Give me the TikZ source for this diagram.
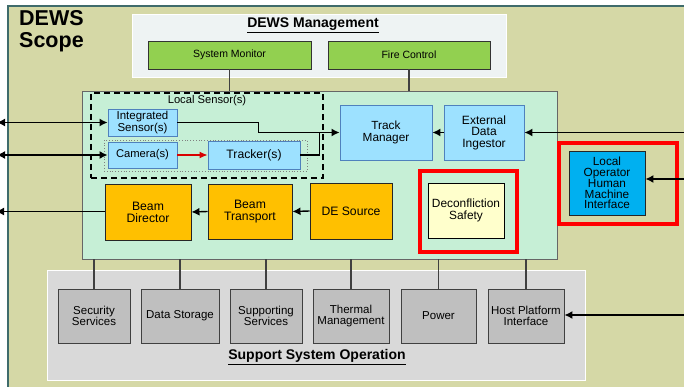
\documentclass[tikz,border=0pt]{standalone}
\usepackage{fontspec}
\setmainfont{Liberation Sans}
\usetikzlibrary{arrows.meta,calc}
\definecolor{scopebg}{HTML}{D5D8A6}
\definecolor{scopeline}{HTML}{3F6B6B}
\definecolor{mgmtbg}{HTML}{EEF3F3}
\definecolor{greenbox}{HTML}{92D050}
\definecolor{mintbg}{HTML}{C6EFD6}
\definecolor{lblue}{HTML}{9DE1FF}
\definecolor{lblueline}{HTML}{4F81BD}
\definecolor{orangebox}{HTML}{FFC000}
\definecolor{paleyel}{HTML}{FFFFCC}
\definecolor{hmiblue}{HTML}{00B0F0}
\definecolor{suppbg}{HTML}{D9D9D9}
\definecolor{graybox}{HTML}{BFBFBF}
\definecolor{conn}{HTML}{404040}
\tikzset{
  x=1pt,y=-1pt,
  panel/.style={draw=#1,rectangle,inner sep=0pt,outer sep=0pt},
  gbox/.style={draw=black!80,fill=greenbox,line width=0.9pt,inner sep=0pt,font=\fontsize{10.5}{11}\selectfont},
  bbox/.style={draw=lblueline,fill=lblue,line width=0.9pt,inner sep=0pt,align=center,font=\fontsize{11.5}{11}\selectfont},
  obox/.style={draw=black!85,fill=orangebox,line width=0.9pt,inner sep=0pt,align=center,font=\fontsize{12.2}{12}\selectfont},
  sbox/.style={draw=black!75,fill=graybox,line width=0.9pt,inner sep=0pt,align=center,font=\fontsize{11.5}{11}\selectfont},
  vconn/.style={draw=conn,line width=1.8pt},
  arr/.style={draw=black,line width=1.4pt,-{Latex[length=8pt,width=8pt]}},
  arrb/.style={draw=black,line width=1.4pt,{Latex[length=8pt,width=8pt]}-{Latex[length=8pt,width=8pt]}},
  redframe/.style={draw=red,line width=4.5pt,inner sep=0pt},
}
\begin{document}
\begin{tikzpicture}
\useasboundingbox (0,0) rectangle (684,387);
% scope background
\fill[scopebg] (8,6) rectangle (700,400);
\draw[scopeline,line width=1.2pt] (8,400) -- (8,6) -- (700,6);
\node[anchor=north west,align=left,inner sep=0pt,font=\fontsize{21.5}{22.5}\selectfont\bfseries] (scope) at (19,10) {DEWS\\Scope};

% management panel
\node[panel=white,fill=mgmtbg,minimum width=374pt,minimum height=63pt] (mgmt) at (319,45.5) {};
\node[inner sep=0pt,font=\fontsize{14}{14}\selectfont\bfseries] (mgmtt) at (313,25) {\underline{DEWS Management}};
\node[gbox,minimum width=163pt,minimum height=28pt] (sysmon) at (229.5,55) {System Monitor};
\node[gbox,minimum width=162pt,minimum height=28pt] (fire) at (409,55) {Fire Control};

% main panel
\node[panel=gray!80!black,fill=mintbg,line width=0.9pt,minimum width=475pt,minimum height=168pt] (main) at (319.5,175) {};
\draw[vconn] (sysmon.south) -- (sysmon.south |- main.north);
\draw[vconn] (fire.south) -- (fire.south |- main.north);

% local sensor group
\node[panel=black,line width=1.3pt,dash pattern=on 6pt off 4pt,minimum width=232pt,minimum height=85pt] (lsg) at (207,135.5) {};
\node[inner sep=0pt,font=\fontsize{11.2}{12}\selectfont] (lsl) at (207,101) {Local Sensor(s)};
\node[panel=gray,line width=0.8pt,dotted,minimum width=203pt,minimum height=31pt] (dotg) at (205.5,155.5) {};
\node[bbox,minimum width=69pt,minimum height=27pt,font=\fontsize{11.5}{9.5}\selectfont] (ints) at (142.5,122.5) {Integrated\\Sensor(s)};
\node[bbox,minimum width=69pt,minimum height=26pt,font=\fontsize{11.2}{11}\selectfont] (cam) at (142.5,155) {Camera(s)};
\node[bbox,minimum width=92pt,minimum height=28pt,font=\fontsize{12.2}{12}\selectfont] (trk) at (254,155) {Tracker(s)};
\node[bbox,minimum width=92pt,minimum height=55pt,font=\fontsize{11.8}{11.2}\selectfont] (tm) at (386,132.5) {Track\\Manager};
\node[bbox,minimum width=80pt,minimum height=55pt,font=\fontsize{12}{11.5}\selectfont] (ext) at (484,132.5) {External\\Data\\Ingestor};

% beam chain
\node[obox,minimum width=86pt,minimum height=56pt] (bd) at (148,212) {Beam\\Director};
\node[obox,minimum width=84pt,minimum height=55pt] (bt) at (250,211.5) {Beam\\Transport};
\node[obox,minimum width=82pt,minimum height=56pt] (des) at (351,211) {DE Source};

% deconfliction
\node[redframe,minimum width=97pt,minimum height=81pt] (dfr) at (468.5,211.5) {};
\node[draw=black,fill=paleyel,line width=0.9pt,inner sep=0pt,align=center,font=\fontsize{11.9}{12}\selectfont,minimum width=76pt,minimum height=55pt] (dec) at (466,210.5) {Deconfliction\\Safety};

% HMI
\node[redframe,minimum width=118pt,minimum height=81pt] (hfr) at (618,183.5) {};
\node[draw=black!85,fill=hmiblue,line width=0.9pt,inner sep=0pt,align=center,font=\fontsize{11.8}{10.4}\selectfont,minimum width=76pt,minimum height=64pt] (hmi) at (607,183) {Local\\Operator\\Human\\Machine\\Interface};

% support panel
\node[panel=white,fill=suppbg,line width=0.9pt,minimum width=538pt,minimum height=110pt] (supp) at (316,325) {};
\node[inner sep=0pt,font=\fontsize{14}{14}\selectfont\bfseries] (suppt) at (317,357) {\underline{Support System Operation}};
\node[sbox,minimum width=72pt,minimum height=54pt] (sec) at (94,316) {Security\\Services};
\node[sbox,minimum width=78pt,minimum height=54pt] (dst) at (180,316) {Data Storage};
\node[sbox,minimum width=72pt,minimum height=54pt] (sup) at (266,316) {Supporting\\Services};
\node[sbox,minimum width=76pt,minimum height=54pt] (thm) at (351,316) {Thermal\\Management};
\node[sbox,minimum width=75pt,minimum height=54pt] (pow) at (438.5,316) {Power};
\node[sbox,minimum width=76pt,minimum height=54pt] (hpi) at (526,316) {Host Platform\\Interface};
\foreach \b in {sec,dst,sup,thm,pow,hpi}{
  \draw[vconn] (\b.north) -- (\b.north |- main.south);
}

% connectors
\coordinate (L1) at (-3,122.5);
\coordinate (L2) at (-3,155);
\coordinate (L3) at (-4,211.5);
\coordinate (R1) at (690,132.5);
\coordinate (R2) at (690,179);
\coordinate (R3) at (690,315);
\draw[arrb] (L1) -- (ints.west);
\draw[arrb] (L2) -- (cam.west);
\draw[arr] (bd.west |- L3) -- (L3);
\draw[draw=black,line width=1.4pt] (ints.east) -- ++(81,0) |- ($(tm.west)+(-4,0)$);
\draw[draw=black,line width=1.4pt] (trk.east) -- ++(19,0) |- ($(tm.west)+(-4,0)$);
\draw[arr] ($(tm.west)+(-6,0)$) -- (tm.west);
\draw[draw=red!85!black,line width=1.2pt,-{Latex[length=8pt,width=7pt]}] (cam.east) -- (trk.west);
\draw[arr] (ext.west) -- (tm.east);
\draw[arr] (R1) -- (ext.east);
\draw[arr] (R2) -- (R2 -| hmi.east);
\draw[arr] (R3) -- (R3 -| hpi.east);
\draw[arr] (des.west) -- (bt.east);
\draw[arr] (bt.west) -- (bd.east);
\end{tikzpicture}
\end{document}
